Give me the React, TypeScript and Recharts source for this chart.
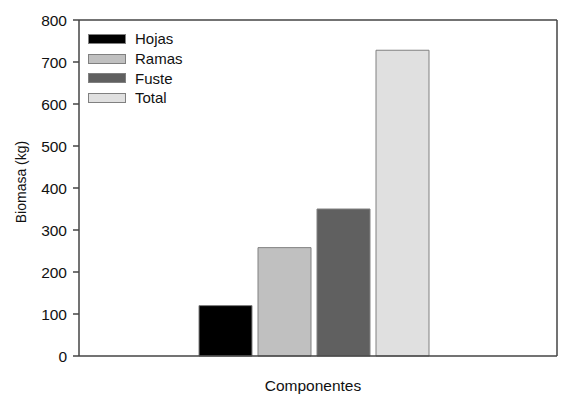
import React from "react";
import { BarChart, Bar, XAxis, YAxis } from "recharts";

const categories = ["Componentes"];
const seriesNames = ["Hojas", "Ramas", "Fuste", "Total"];
const seriesValues = [120, 258, 350, 728];
const seriesColors = ["#000000", "#c0c0c0", "#606060", "#e0e0e0"];
const yTicks = [0, 100, 200, 300, 400, 500, 600, 700, 800];

const data = categories.map((name) => {
  const row: Record<string, string | number> = { name };
  seriesNames.forEach((s, i) => {
    row[s] = seriesValues[i];
  });
  return row;
});

const font = "'Liberation Sans', Arial, sans-serif";
const axisStroke = { stroke: "#444", strokeWidth: 1.5 };

function BoxLegend() {
  return (
    <div
      style={{
        position: "absolute",
        left: 88,
        top: 29,
        fontFamily: font,
        fontSize: 15,
        color: "#111",
      }}
    >
      {seriesNames.map((s, i) => (
        <div
          key={s}
          style={{ display: "flex", alignItems: "center", height: 19.7 }}
        >
          <span
            style={{
              display: "inline-block",
              width: 36,
              height: 8,
              background: seriesColors[i],
              border: "1px solid #808080",
              marginRight: 9,
            }}
          />
          <span>{s}</span>
        </div>
      ))}
    </div>
  );
}

export default function App() {
  return (
    <div
      style={{
        position: "absolute",
        left: 0,
        top: 0,
        width: 567,
        height: 406,
        background: "#fff",
      }}
    >
      <BarChart
        width={567}
        height={406}
        data={data}
        margin={{ top: 19, right: 9, bottom: 49, left: 19 }}
        barSize={53}
        barGap={6}
      >
        <XAxis
          dataKey="name"
          tick={false}
          tickLine={false}
          axisLine={axisStroke}
          height={1}
          padding={{ left: 0, right: 9 }}
        />
        <XAxis
          xAxisId="top"
          orientation="top"
          dataKey="name"
          tick={false}
          tickLine={false}
          axisLine={axisStroke}
          height={1}
        />
        <YAxis
          domain={[0, 800]}
          ticks={yTicks}
          width={60}
          tickSize={6}
          tickMargin={6}
          interval={0}
          axisLine={axisStroke}
          tickLine={axisStroke}
          tick={{ fill: "#111", fontSize: 15.5, fontFamily: font }}
          label={() => (
            <text
              x={21}
              y={182}
              transform="rotate(-90 21 182)"
              textAnchor="middle"
              dominantBaseline="central"
              fill="#111"
              fontSize={14}
              fontFamily={font}
            >
              Biomasa (kg)
            </text>
          )}
        />
        <YAxis
          yAxisId="right"
          orientation="right"
          domain={[0, 800]}
          width={1}
          tick={false}
          tickLine={false}
          axisLine={axisStroke}
        />
        {seriesNames.map((s, i) => (
          <Bar
            key={s}
            dataKey={s}
            fill={seriesColors[i]}
            stroke="#808080"
            strokeWidth={1}
            isAnimationActive={false}
          />
        ))}
      </BarChart>
      <BoxLegend />
      <div
        style={{
          position: "absolute",
          left: 74,
          width: 478,
          top: 377,
          textAlign: "center",
          fontFamily: font,
          fontSize: 15.5,
          color: "#111",
        }}
      >
        Componentes
      </div>
    </div>
  );
}
